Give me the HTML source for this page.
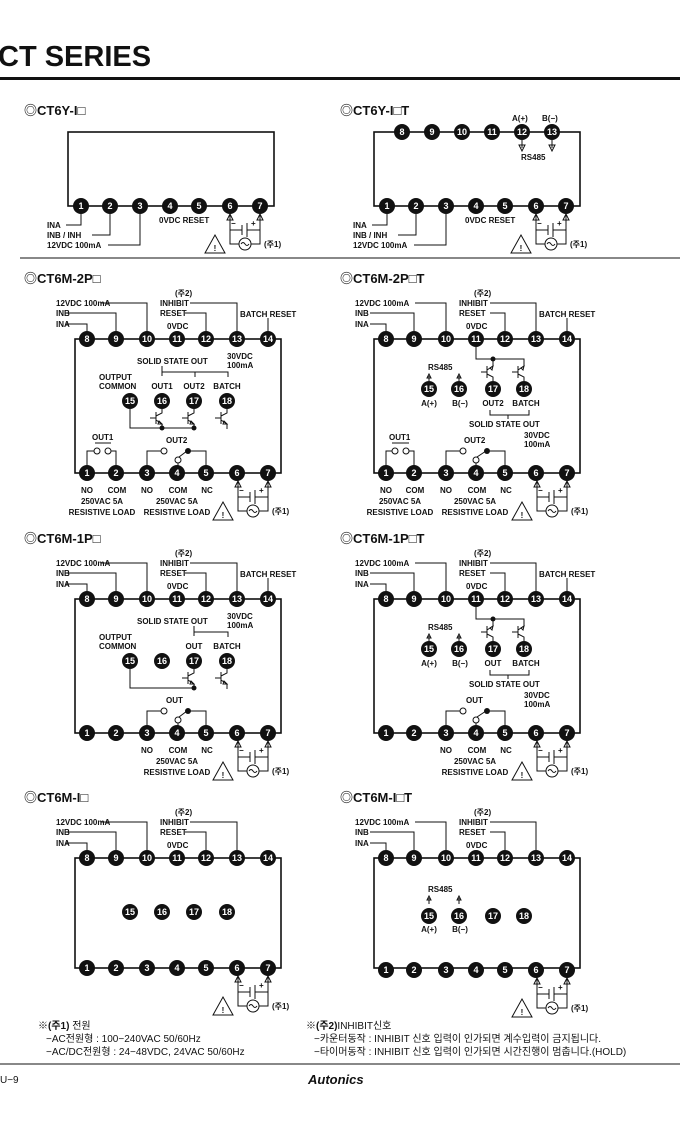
<!DOCTYPE html>
<html><head><meta charset="utf-8"><style>
html,body{margin:0;padding:0;background:#fff;width:680px;height:1134px;overflow:hidden}
svg{display:block}
text{font-family:"Liberation Sans","Noto Sans CJK KR",sans-serif;font-weight:bold;fill:#111}
.p{font-size:9px;fill:#fff;text-anchor:middle}
.l{font-size:8px}
.c{text-anchor:middle}
.h{font-size:13px}
.n{font-size:10px;font-weight:normal}
line,path,polyline,rect.b{stroke:#111;fill:none;stroke-width:1}
rect.b{stroke-width:1.6}
</style></head><body>
<svg width="680" height="1134" viewBox="0 0 680 1134">
<defs>
<g id="pin"><circle r="8" fill="#111"/></g>
<g id="pw">
<path d="M0,9 V38 H30 V9 M0,24 H12 M12,19 V29 M17,17 V31 M17,24 H30"/>
<path d="M-3,14 L0,8 L3,14Z M27,14 L30,8 L33,14Z" fill="#111"/>
<circle cx="15" cy="38" r="6" fill="#fff" stroke="#111"/>
<path d="M11,38 q2,-3 4,0 t4,0"/>
<path d="M-25,47 L-15,29 L-5,47Z" stroke-width="2"/>
<text x="-15" y="45" class="l c">!</text>
<text x="1" y="20" class="l">−</text><text x="21" y="20" class="l">+</text>
<text x="34" y="41" class="l">(주1)</text>
</g>
<g id="trd">
<path d="M0,8 V12 L-6,15 M-6,11 V23 M-6,19 L0,23 V28 M-12,17 H-6"/>
<path d="M-3,20 L0,23 L-4,23Z" fill="#111"/>
</g>
<g id="tru">
<path d="M0,-8 V-12 L-6,-15 M-6,-11 V-23 M-6,-19 L0,-23 V-28 M-12,-17 H-6"/>
<path d="M-3,-21 L0,-23 L-1,-19Z" fill="#111"/>
</g>
</defs>

<text x="-2" y="66" style="font-size:29px">CT SERIES</text>
<rect x="0" y="77" width="680" height="3" fill="#111"/>

<!-- ========== CT6Y-I left ========== -->
<text x="24" y="115" class="h">◎CT6Y-I□</text>
<rect class="b" x="68" y="132" width="206" height="74"/>
<g>
<use href="#pin" x="81" y="206"/><use href="#pin" x="110" y="206"/><use href="#pin" x="140" y="206"/><use href="#pin" x="170" y="206"/><use href="#pin" x="199" y="206"/><use href="#pin" x="230" y="206"/><use href="#pin" x="260" y="206"/>
<text class="p" x="81" y="209">1</text><text class="p" x="110" y="209">2</text><text class="p" x="140" y="209">3</text><text class="p" x="170" y="209">4</text><text class="p" x="199" y="209">5</text><text class="p" x="230" y="209">6</text><text class="p" x="260" y="209">7</text>
<path d="M66,225 H81 V214 M92,235 H110 V214 M108,245 H140 V214"/>
<text class="l" x="47" y="228">INA</text><text class="l" x="47" y="238">INB / INH</text><text class="l" x="47" y="248">12VDC 100mA</text>
<text class="l" x="159" y="223">0VDC RESET</text>
<use href="#pw" x="230" y="206"/>
</g>

<!-- ========== CT6Y-I T right ========== -->
<text x="340" y="115" class="h">◎CT6Y-I□T</text>
<rect class="b" x="374" y="132" width="206" height="74"/>
<use href="#pin" x="402" y="132"/><use href="#pin" x="432" y="132"/><use href="#pin" x="462" y="132"/><use href="#pin" x="492" y="132"/><use href="#pin" x="522" y="132"/><use href="#pin" x="552" y="132"/>
<text class="p" x="402" y="135">8</text><text class="p" x="432" y="135">9</text><text class="p" x="462" y="135">10</text><text class="p" x="492" y="135">11</text><text class="p" x="522" y="135">12</text><text class="p" x="552" y="135">13</text>
<text class="l" x="512" y="121">A(+)</text><text class="l" x="542" y="121">B(−)</text>
<path d="M522,140 V148 M552,140 V148"/><path d="M519,145 L522,151 L525,145Z M549,145 L552,151 L555,145Z" fill="#111"/>
<text class="l" x="521" y="160">RS485</text>
<use href="#pin" x="387" y="206"/><use href="#pin" x="416" y="206"/><use href="#pin" x="446" y="206"/><use href="#pin" x="476" y="206"/><use href="#pin" x="505" y="206"/><use href="#pin" x="536" y="206"/><use href="#pin" x="566" y="206"/>
<text class="p" x="387" y="209">1</text><text class="p" x="416" y="209">2</text><text class="p" x="446" y="209">3</text><text class="p" x="476" y="209">4</text><text class="p" x="505" y="209">5</text><text class="p" x="536" y="209">6</text><text class="p" x="566" y="209">7</text>
<path d="M372,225 H387 V214 M398,235 H416 V214 M414,245 H446 V214"/>
<text class="l" x="353" y="228">INA</text><text class="l" x="353" y="238">INB / INH</text><text class="l" x="353" y="248">12VDC 100mA</text>
<text class="l" x="465" y="223">0VDC RESET</text>
<use href="#pw" x="536" y="206"/>
<line x1="20" y1="258" x2="680" y2="258" stroke="#888"/>

<!-- ========== CT6M-2P left ========== -->
<text x="24" y="283" class="h">◎CT6M-2P□</text>
<rect class="b" x="75" y="339" width="206" height="134"/>
<path d="M101,303 H147 V331 M66,313 H116 V331 M66,324 H87 V331 M190,303 H237 V331 M185,313 H206 V331 M268,318 V331"/>
<text class="l" x="56" y="306">12VDC 100mA</text><text class="l" x="56" y="316">INB</text><text class="l" x="56" y="327">INA</text>
<text class="l" x="175" y="296">(주2)</text><text class="l" x="160" y="306">INHIBIT</text><text class="l" x="160" y="316">RESET</text><text class="l" x="167" y="329">0VDC</text><text class="l" x="240" y="317">BATCH RESET</text>
<use href="#pin" x="87" y="339"/><use href="#pin" x="116" y="339"/><use href="#pin" x="147" y="339"/><use href="#pin" x="177" y="339"/><use href="#pin" x="206" y="339"/><use href="#pin" x="237" y="339"/><use href="#pin" x="268" y="339"/>
<text class="p" x="87" y="342">8</text><text class="p" x="116" y="342">9</text><text class="p" x="147" y="342">10</text><text class="p" x="177" y="342">11</text><text class="p" x="206" y="342">12</text><text class="p" x="237" y="342">13</text><text class="p" x="268" y="342">14</text>
<text class="l" x="137" y="364">SOLID STATE OUT</text><text class="l" x="227" y="359">30VDC</text><text class="l" x="227" y="368">100mA</text>
<path d="M162,366 V376 M162,372 H228 V377 M195,372 V377"/>
<text class="l" x="99" y="380">OUTPUT</text><text class="l" x="99" y="389">COMMON</text>
<text class="l c" x="162" y="389">OUT1</text><text class="l c" x="194" y="389">OUT2</text><text class="l c" x="227" y="389">BATCH</text>
<use href="#pin" x="130" y="401"/><use href="#pin" x="162" y="401"/><use href="#pin" x="194" y="401"/><use href="#pin" x="227" y="401"/>
<text class="p" x="130" y="404">15</text><text class="p" x="162" y="404">16</text><text class="p" x="194" y="404">17</text><text class="p" x="227" y="404">18</text>
<use href="#trd" x="162" y="401"/><use href="#trd" x="194" y="401"/><use href="#trd" x="227" y="401"/>
<path d="M130,409 V428 H194"/><circle cx="162" cy="428" r="2.5" fill="#111"/><circle cx="194" cy="428" r="2.5" fill="#111"/>
<text class="l" x="92" y="440">OUT1</text><path d="M95,443 H111"/>
<circle cx="97" cy="451" r="3" fill="#fff" stroke="#111"/><circle cx="108" cy="451" r="3" fill="#fff" stroke="#111"/>
<path d="M94,451 H87 V466 M111,451 H116 V466"/>
<text class="l" x="166" y="443">OUT2</text>
<circle cx="164" cy="451" r="3" fill="#fff" stroke="#111"/><circle cx="178" cy="460" r="3" fill="#fff" stroke="#111"/><circle cx="188" cy="451" r="3" fill="#111"/>
<path d="M161,451 H147 V466 M178,463 V466 M179,457 L187,451 M191,451 H206 V466"/>
<use href="#pin" x="87" y="473"/><use href="#pin" x="116" y="473"/><use href="#pin" x="147" y="473"/><use href="#pin" x="177" y="473"/><use href="#pin" x="206" y="473"/><use href="#pin" x="237" y="473"/><use href="#pin" x="268" y="473"/>
<text class="p" x="87" y="476">1</text><text class="p" x="116" y="476">2</text><text class="p" x="147" y="476">3</text><text class="p" x="177" y="476">4</text><text class="p" x="206" y="476">5</text><text class="p" x="237" y="476">6</text><text class="p" x="268" y="476">7</text>
<text class="l c" x="87" y="493">NO</text><text class="l c" x="117" y="493">COM</text><text class="l c" x="147" y="493">NO</text><text class="l c" x="178" y="493">COM</text><text class="l c" x="207" y="493">NC</text>
<text class="l c" x="102" y="504">250VAC 5A</text><text class="l c" x="177" y="504">250VAC 5A</text>
<text class="l c" x="102" y="515">RESISTIVE LOAD</text><text class="l c" x="177" y="515">RESISTIVE LOAD</text>
<use href="#pw" x="238" y="473"/>

<!-- ========== CT6M-2P T right ========== -->
<text x="340" y="283" class="h">◎CT6M-2P□T</text>
<rect class="b" x="374" y="339" width="206" height="134"/>
<path d="M415,303 H446 V331 M370,313 H414 V331 M370,324 H386 V331 M490,303 H536 V331 M490,313 H505 V331 M567,318 V331"/>
<text class="l" x="355" y="306">12VDC 100mA</text><text class="l" x="355" y="316">INB</text><text class="l" x="355" y="327">INA</text>
<text class="l" x="474" y="296">(주2)</text><text class="l" x="459" y="306">INHIBIT</text><text class="l" x="459" y="316">RESET</text><text class="l" x="466" y="329">0VDC</text><text class="l" x="539" y="317">BATCH RESET</text>
<use href="#pin" x="386" y="339"/><use href="#pin" x="414" y="339"/><use href="#pin" x="446" y="339"/><use href="#pin" x="476" y="339"/><use href="#pin" x="505" y="339"/><use href="#pin" x="536" y="339"/><use href="#pin" x="567" y="339"/>
<text class="p" x="386" y="342">8</text><text class="p" x="414" y="342">9</text><text class="p" x="446" y="342">10</text><text class="p" x="476" y="342">11</text><text class="p" x="505" y="342">12</text><text class="p" x="536" y="342">13</text><text class="p" x="567" y="342">14</text>
<path d="M476,347 V359 H524 V362"/><circle cx="493" cy="359" r="2.5" fill="#111"/><path d="M493,359 V362"/>
<use href="#tru" x="493" y="389"/><use href="#tru" x="524" y="389"/>
<text class="l" x="428" y="370">RS485</text>
<path d="M429,376 V381 M459,376 V381"/><path d="M427,378 L429,374 L431,378Z M457,378 L459,374 L461,378Z" fill="#111"/>
<use href="#pin" x="429" y="389"/><use href="#pin" x="459" y="389"/><use href="#pin" x="493" y="389"/><use href="#pin" x="524" y="389"/>
<text class="p" x="429" y="392">15</text><text class="p" x="459" y="392">16</text><text class="p" x="493" y="392">17</text><text class="p" x="524" y="392">18</text>
<text class="l c" x="429" y="406">A(+)</text><text class="l c" x="460" y="406">B(−)</text><text class="l c" x="493" y="406">OUT2</text><text class="l c" x="526" y="406">BATCH</text>
<path d="M490,410 V415 H529 V410 M508,415 V419"/>
<text class="l" x="469" y="427">SOLID STATE OUT</text><text class="l" x="524" y="438">30VDC</text><text class="l" x="524" y="447">100mA</text>
<text class="l" x="389" y="440">OUT1</text><path d="M392,443 H409"/>
<circle cx="395" cy="451" r="3" fill="#fff" stroke="#111"/><circle cx="406" cy="451" r="3" fill="#fff" stroke="#111"/>
<path d="M392,451 H386 V466 M409,451 H414 V466"/>
<text class="l" x="464" y="443">OUT2</text>
<circle cx="463" cy="451" r="3" fill="#fff" stroke="#111"/><circle cx="476" cy="460" r="3" fill="#fff" stroke="#111"/><circle cx="487" cy="451" r="3" fill="#111"/>
<path d="M460,451 H446 V466 M476,463 V466 M477,457 L486,451 M490,451 H505 V466"/>
<use href="#pin" x="386" y="473"/><use href="#pin" x="414" y="473"/><use href="#pin" x="446" y="473"/><use href="#pin" x="476" y="473"/><use href="#pin" x="505" y="473"/><use href="#pin" x="536" y="473"/><use href="#pin" x="567" y="473"/>
<text class="p" x="386" y="476">1</text><text class="p" x="414" y="476">2</text><text class="p" x="446" y="476">3</text><text class="p" x="476" y="476">4</text><text class="p" x="505" y="476">5</text><text class="p" x="536" y="476">6</text><text class="p" x="567" y="476">7</text>
<text class="l c" x="386" y="493">NO</text><text class="l c" x="415" y="493">COM</text><text class="l c" x="446" y="493">NO</text><text class="l c" x="477" y="493">COM</text><text class="l c" x="506" y="493">NC</text>
<text class="l c" x="400" y="504">250VAC 5A</text><text class="l c" x="475" y="504">250VAC 5A</text>
<text class="l c" x="400" y="515">RESISTIVE LOAD</text><text class="l c" x="475" y="515">RESISTIVE LOAD</text>
<use href="#pw" x="537" y="473"/>

<!-- ========== CT6M-1P left ========== -->
<g transform="translate(0,260)">
<text x="24" y="283" class="h">◎CT6M-1P□</text>
<rect class="b" x="75" y="339" width="206" height="134"/>
<path d="M101,303 H147 V331 M66,313 H116 V331 M66,324 H87 V331 M190,303 H237 V331 M185,313 H206 V331 M268,318 V331"/>
<text class="l" x="56" y="306">12VDC 100mA</text><text class="l" x="56" y="316">INB</text><text class="l" x="56" y="327">INA</text>
<text class="l" x="175" y="296">(주2)</text><text class="l" x="160" y="306">INHIBIT</text><text class="l" x="160" y="316">RESET</text><text class="l" x="167" y="329">0VDC</text><text class="l" x="240" y="317">BATCH RESET</text>
<use href="#pin" x="87" y="339"/><use href="#pin" x="116" y="339"/><use href="#pin" x="147" y="339"/><use href="#pin" x="177" y="339"/><use href="#pin" x="206" y="339"/><use href="#pin" x="237" y="339"/><use href="#pin" x="268" y="339"/>
<text class="p" x="87" y="342">8</text><text class="p" x="116" y="342">9</text><text class="p" x="147" y="342">10</text><text class="p" x="177" y="342">11</text><text class="p" x="206" y="342">12</text><text class="p" x="237" y="342">13</text><text class="p" x="268" y="342">14</text>
<text class="l" x="137" y="364">SOLID STATE OUT</text><text class="l" x="227" y="359">30VDC</text><text class="l" x="227" y="368">100mA</text>
<path d="M194,366 V376 M194,372 H228 V377"/>
<text class="l" x="99" y="380">OUTPUT</text><text class="l" x="99" y="389">COMMON</text>
<text class="l c" x="194" y="389">OUT</text><text class="l c" x="227" y="389">BATCH</text>
<use href="#pin" x="130" y="401"/><use href="#pin" x="162" y="401"/><use href="#pin" x="194" y="401"/><use href="#pin" x="227" y="401"/>
<text class="p" x="130" y="404">15</text><text class="p" x="162" y="404">16</text><text class="p" x="194" y="404">17</text><text class="p" x="227" y="404">18</text>
<use href="#trd" x="194" y="401"/><use href="#trd" x="227" y="401"/>
<path d="M130,409 V428 H194"/><circle cx="194" cy="428" r="2.5" fill="#111"/>
<text class="l" x="166" y="443">OUT</text>
<circle cx="164" cy="451" r="3" fill="#fff" stroke="#111"/><circle cx="178" cy="460" r="3" fill="#fff" stroke="#111"/><circle cx="188" cy="451" r="3" fill="#111"/>
<path d="M161,451 H147 V466 M178,463 V466 M179,457 L187,451 M191,451 H206 V466"/>
<use href="#pin" x="87" y="473"/><use href="#pin" x="116" y="473"/><use href="#pin" x="147" y="473"/><use href="#pin" x="177" y="473"/><use href="#pin" x="206" y="473"/><use href="#pin" x="237" y="473"/><use href="#pin" x="268" y="473"/>
<text class="p" x="87" y="476">1</text><text class="p" x="116" y="476">2</text><text class="p" x="147" y="476">3</text><text class="p" x="177" y="476">4</text><text class="p" x="206" y="476">5</text><text class="p" x="237" y="476">6</text><text class="p" x="268" y="476">7</text>
<text class="l c" x="147" y="493">NO</text><text class="l c" x="178" y="493">COM</text><text class="l c" x="207" y="493">NC</text>
<text class="l c" x="177" y="504">250VAC 5A</text><text class="l c" x="177" y="515">RESISTIVE LOAD</text>
<use href="#pw" x="238" y="473"/>
</g>

<!-- ========== CT6M-1P T right ========== -->
<g transform="translate(0,260)">
<text x="340" y="283" class="h">◎CT6M-1P□T</text>
<rect class="b" x="374" y="339" width="206" height="134"/>
<path d="M415,303 H446 V331 M370,313 H414 V331 M370,324 H386 V331 M490,303 H536 V331 M490,313 H505 V331 M567,318 V331"/>
<text class="l" x="355" y="306">12VDC 100mA</text><text class="l" x="355" y="316">INB</text><text class="l" x="355" y="327">INA</text>
<text class="l" x="474" y="296">(주2)</text><text class="l" x="459" y="306">INHIBIT</text><text class="l" x="459" y="316">RESET</text><text class="l" x="466" y="329">0VDC</text><text class="l" x="539" y="317">BATCH RESET</text>
<use href="#pin" x="386" y="339"/><use href="#pin" x="414" y="339"/><use href="#pin" x="446" y="339"/><use href="#pin" x="476" y="339"/><use href="#pin" x="505" y="339"/><use href="#pin" x="536" y="339"/><use href="#pin" x="567" y="339"/>
<text class="p" x="386" y="342">8</text><text class="p" x="414" y="342">9</text><text class="p" x="446" y="342">10</text><text class="p" x="476" y="342">11</text><text class="p" x="505" y="342">12</text><text class="p" x="536" y="342">13</text><text class="p" x="567" y="342">14</text>
<path d="M476,347 V359 H524 V362"/><circle cx="493" cy="359" r="2.5" fill="#111"/><path d="M493,359 V362"/>
<use href="#tru" x="493" y="389"/><use href="#tru" x="524" y="389"/>
<text class="l" x="428" y="370">RS485</text>
<path d="M429,376 V381 M459,376 V381"/><path d="M427,378 L429,374 L431,378Z M457,378 L459,374 L461,378Z" fill="#111"/>
<use href="#pin" x="429" y="389"/><use href="#pin" x="459" y="389"/><use href="#pin" x="493" y="389"/><use href="#pin" x="524" y="389"/>
<text class="p" x="429" y="392">15</text><text class="p" x="459" y="392">16</text><text class="p" x="493" y="392">17</text><text class="p" x="524" y="392">18</text>
<text class="l c" x="429" y="406">A(+)</text><text class="l c" x="460" y="406">B(−)</text><text class="l c" x="493" y="406">OUT</text><text class="l c" x="526" y="406">BATCH</text>
<path d="M490,410 V415 H529 V410 M508,415 V419"/>
<text class="l" x="469" y="427">SOLID STATE OUT</text><text class="l" x="524" y="438">30VDC</text><text class="l" x="524" y="447">100mA</text>
<text class="l" x="466" y="443">OUT</text>
<circle cx="463" cy="451" r="3" fill="#fff" stroke="#111"/><circle cx="476" cy="460" r="3" fill="#fff" stroke="#111"/><circle cx="487" cy="451" r="3" fill="#111"/>
<path d="M460,451 H446 V466 M476,463 V466 M477,457 L486,451 M490,451 H505 V466"/>
<use href="#pin" x="386" y="473"/><use href="#pin" x="414" y="473"/><use href="#pin" x="446" y="473"/><use href="#pin" x="476" y="473"/><use href="#pin" x="505" y="473"/><use href="#pin" x="536" y="473"/><use href="#pin" x="567" y="473"/>
<text class="p" x="386" y="476">1</text><text class="p" x="414" y="476">2</text><text class="p" x="446" y="476">3</text><text class="p" x="476" y="476">4</text><text class="p" x="505" y="476">5</text><text class="p" x="536" y="476">6</text><text class="p" x="567" y="476">7</text>
<text class="l c" x="446" y="493">NO</text><text class="l c" x="477" y="493">COM</text><text class="l c" x="506" y="493">NC</text>
<text class="l c" x="475" y="504">250VAC 5A</text><text class="l c" x="475" y="515">RESISTIVE LOAD</text>
<use href="#pw" x="537" y="473"/>
</g>

<!-- ========== CT6M-I left ========== -->
<g transform="translate(0,519)">
<text x="24" y="283" class="h">◎CT6M-I□</text>
<rect class="b" x="75" y="339" width="206" height="110"/>
<path d="M101,303 H147 V331 M66,313 H116 V331 M66,324 H87 V331 M190,303 H237 V331 M185,313 H206 V331"/>
<text class="l" x="56" y="306">12VDC 100mA</text><text class="l" x="56" y="316">INB</text><text class="l" x="56" y="327">INA</text>
<text class="l" x="175" y="296">(주2)</text><text class="l" x="160" y="306">INHIBIT</text><text class="l" x="160" y="316">RESET</text><text class="l" x="167" y="329">0VDC</text>
<use href="#pin" x="87" y="339"/><use href="#pin" x="116" y="339"/><use href="#pin" x="147" y="339"/><use href="#pin" x="177" y="339"/><use href="#pin" x="206" y="339"/><use href="#pin" x="237" y="339"/><use href="#pin" x="268" y="339"/>
<text class="p" x="87" y="342">8</text><text class="p" x="116" y="342">9</text><text class="p" x="147" y="342">10</text><text class="p" x="177" y="342">11</text><text class="p" x="206" y="342">12</text><text class="p" x="237" y="342">13</text><text class="p" x="268" y="342">14</text>
<use href="#pin" x="130" y="393"/><use href="#pin" x="162" y="393"/><use href="#pin" x="194" y="393"/><use href="#pin" x="227" y="393"/>
<text class="p" x="130" y="396">15</text><text class="p" x="162" y="396">16</text><text class="p" x="194" y="396">17</text><text class="p" x="227" y="396">18</text>
<use href="#pin" x="87" y="449"/><use href="#pin" x="116" y="449"/><use href="#pin" x="147" y="449"/><use href="#pin" x="177" y="449"/><use href="#pin" x="206" y="449"/><use href="#pin" x="237" y="449"/><use href="#pin" x="268" y="449"/>
<text class="p" x="87" y="452">1</text><text class="p" x="116" y="452">2</text><text class="p" x="147" y="452">3</text><text class="p" x="177" y="452">4</text><text class="p" x="206" y="452">5</text><text class="p" x="237" y="452">6</text><text class="p" x="268" y="452">7</text>
<use href="#pw" x="238" y="449"/>
</g>

<!-- ========== CT6M-I T right ========== -->
<g transform="translate(0,519)">
<text x="340" y="283" class="h">◎CT6M-I□T</text>
<rect class="b" x="374" y="339" width="206" height="110"/>
<path d="M415,303 H446 V331 M370,313 H414 V331 M370,324 H386 V331 M490,303 H536 V331 M490,313 H505 V331"/>
<text class="l" x="355" y="306">12VDC 100mA</text><text class="l" x="355" y="316">INB</text><text class="l" x="355" y="327">INA</text>
<text class="l" x="474" y="296">(주2)</text><text class="l" x="459" y="306">INHIBIT</text><text class="l" x="459" y="316">RESET</text><text class="l" x="466" y="329">0VDC</text>
<use href="#pin" x="386" y="339"/><use href="#pin" x="414" y="339"/><use href="#pin" x="446" y="339"/><use href="#pin" x="476" y="339"/><use href="#pin" x="505" y="339"/><use href="#pin" x="536" y="339"/><use href="#pin" x="567" y="339"/>
<text class="p" x="386" y="342">8</text><text class="p" x="414" y="342">9</text><text class="p" x="446" y="342">10</text><text class="p" x="476" y="342">11</text><text class="p" x="505" y="342">12</text><text class="p" x="536" y="342">13</text><text class="p" x="567" y="342">14</text>
<text class="l" x="428" y="373">RS485</text>
<path d="M429,379 V385 M459,379 V385"/><path d="M427,381 L429,377 L431,381Z M457,381 L459,377 L461,381Z" fill="#111"/>
<use href="#pin" x="429" y="397"/><use href="#pin" x="459" y="397"/><use href="#pin" x="493" y="397"/><use href="#pin" x="524" y="397"/>
<text class="p" x="429" y="400">15</text><text class="p" x="459" y="400">16</text><text class="p" x="493" y="400">17</text><text class="p" x="524" y="400">18</text>
<text class="l c" x="429" y="413">A(+)</text><text class="l c" x="460" y="413">B(−)</text>
<use href="#pin" x="386" y="451"/><use href="#pin" x="414" y="451"/><use href="#pin" x="446" y="451"/><use href="#pin" x="476" y="451"/><use href="#pin" x="505" y="451"/><use href="#pin" x="536" y="451"/><use href="#pin" x="567" y="451"/>
<text class="p" x="386" y="454">1</text><text class="p" x="414" y="454">2</text><text class="p" x="446" y="454">3</text><text class="p" x="476" y="454">4</text><text class="p" x="505" y="454">5</text><text class="p" x="536" y="454">6</text><text class="p" x="567" y="454">7</text>
<use href="#pw" x="537" y="451"/>
</g>

<!-- notes -->
<text x="38" y="1029" style="font-size:10px">※(주1) <tspan style="font-weight:normal">전원</tspan></text>
<text x="46" y="1042" class="n">−AC전원형 : 100−240VAC 50/60Hz</text>
<text x="46" y="1055" class="n">−AC/DC전원형 : 24−48VDC, 24VAC 50/60Hz</text>
<text x="306" y="1029" style="font-size:10px">※(주2)<tspan style="font-weight:normal">INHIBIT신호</tspan></text>
<text x="314" y="1042" class="n">−카운터동작 : INHIBIT 신호 입력이 인가되면 계수입력이 금지됩니다.</text>
<text x="314" y="1055" class="n">−타이머동작 : INHIBIT 신호 입력이 인가되면 시간진행이 멈춥니다.(HOLD)</text>
<line x1="0" y1="1064" x2="680" y2="1064" stroke="#444"/>
<text x="0" y="1083" style="font-size:10px;font-weight:normal">U−9</text>
<text x="308" y="1084" style="font-size:13px;font-style:italic">Autonics</text>
</svg>
</body></html>
